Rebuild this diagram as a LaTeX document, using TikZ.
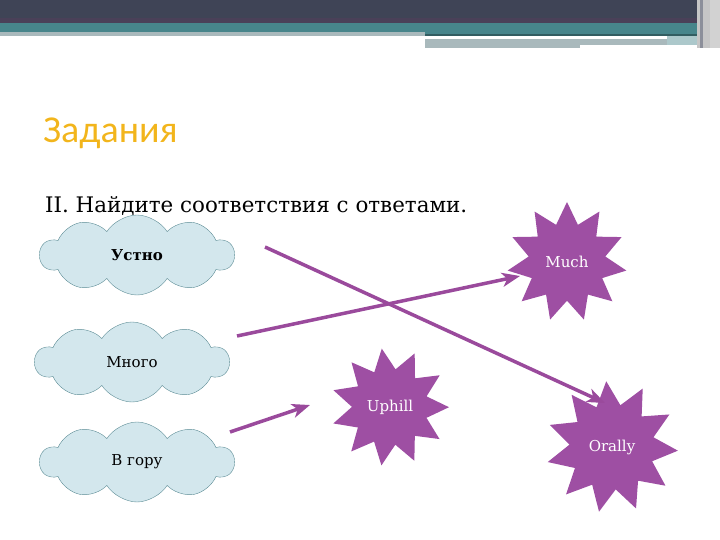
\documentclass[tikz,border=0pt]{standalone}
\usepackage{fontspec}
\setmainfont{DejaVu Serif}
\newfontfamily\titlefont{Carlito}
\usetikzlibrary{shapes.symbols, shapes.geometric, arrows.meta, calc}

\definecolor{slate}{HTML}{3F4456}
\definecolor{slateline}{HTML}{4A4058}
\definecolor{bandteal}{HTML}{47858B}
\definecolor{bandgrey}{HTML}{A9B9BC}
\definecolor{cloudfill}{HTML}{D3E7ED}
\definecolor{cloudline}{HTML}{5C8C95}
\definecolor{starpurple}{HTML}{9E4FA3}
\definecolor{linkpurple}{HTML}{9A4A9C}
\definecolor{titlegold}{HTML}{F2B51C}

\begin{document}
\begin{tikzpicture}[
        x=1pt, y=-1pt,
        cloudbox/.style={cloud, cloud puffs=10, cloud puff arc=115, aspect=2.3, draw=cloudline, fill=cloudfill, minimum width=194pt, minimum height=80pt, inner sep=0pt, font=\fontsize{15}{17}\selectfont},
        burst/.style={star, star points=11, star point ratio=1.55, fill=starpurple, text=white, inner sep=0pt, font=\fontsize{15}{17}\selectfont},
        link/.style={draw=linkpurple, line width=3.5pt, -{Stealth[length=18pt, width=14pt, inset=5pt]}}
    ]
        \useasboundingbox (0,0) rectangle (720,540);

        % Header band
        \fill[slate] (0,0) rectangle (720,23);
        \fill[slateline] (0,18) rectangle (720,23);
        \fill[bandteal] (0,23) rectangle (720,32);
        \fill[bandgrey] (0,32) rectangle (425,36);
        \fill[bandteal] (425,32) rectangle (697,34);
        \fill[bandteal!70!black] (425,34) rectangle (697,36);
        \fill[bandgrey] (425,39) rectangle (667,45);
        \fill[bandgrey] (425,45) rectangle (580,48);
        \fill[bandteal!45!white] (667,36) rectangle (697,45);
        \fill[gray!45] (697,0) rectangle (710,48);
        \fill[slate!60!white] (700,0) rectangle (703,48);
        \fill[gray!35] (710,0) rectangle (720,48);

        % Headings
        \node[anchor=base west, inner sep=0pt, text=titlegold, font=\titlefont\fontsize{38}{40}\selectfont] (title) at (43,143) {Задания};
        \node[anchor=base west, inner sep=0pt, font=\fontsize{21.4}{24}\selectfont] (task) at (45,212) {II. Найдите соответствия с ответами.};

        % Russian words
        \node[cloudbox] (ustno) at (137,255) {\bfseries Устно};
        \node[cloudbox] (mnogo) at (132,362) {Много};
        \node[cloudbox] (vgoru) at (137,462) {В гору};

        % English answers
        \node[burst, minimum size=120pt] (much) at (567,262) {Much};
        \node[burst, minimum size=118pt, shape border rotate=8] (uphill) at (390,407) {Uphill};
        \node[burst, minimum size=132pt, shape border rotate=5] (orally) at (612,447) {Orally};

        % Arrows
        \draw[link] ([shift={(128,-8)}]ustno.center) -- ([shift={(-7,-44)}]orally.center);
        \draw[link] ([shift={(105,-26)}]mnogo.center) -- ([shift={(-47,14)}]much.center);
        \draw[link] ([shift={(93,-30)}]vgoru.center) -- ([shift={(-80,-2)}]uphill.center);
    \end{tikzpicture}
\end{document}
